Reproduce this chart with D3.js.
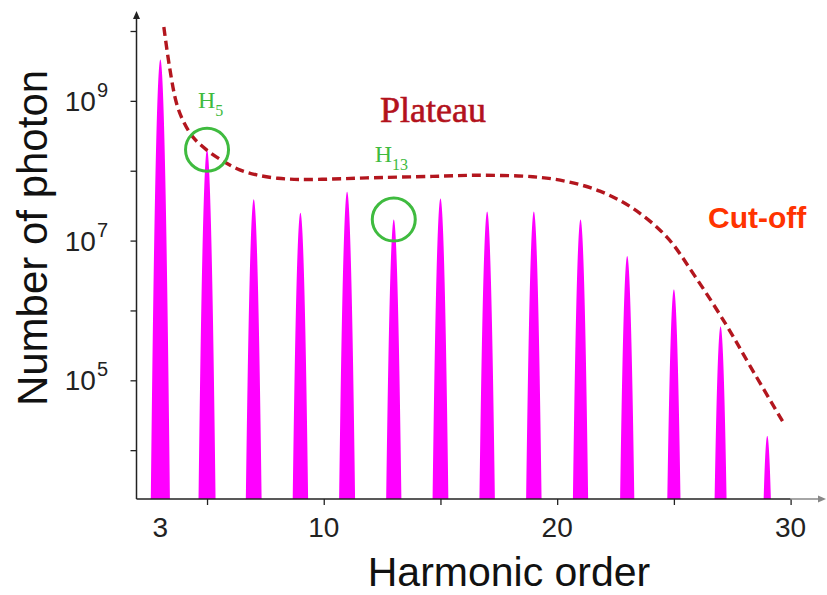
<!DOCTYPE html>
<html>
<head>
<meta charset="utf-8">
<script src="https://cdn.jsdelivr.net/npm/d3@7"></script>
<style>
  html, body { margin: 0; padding: 0; background: #fff; }
  svg { display: block; }
</style>
</head>
<body>
<script>
// Odd harmonic orders and their photon yields (peak heights)
const harmonicOrders = [3, 5, 7, 9, 11, 13, 15, 17, 19, 21, 23, 25, 27, 29];
const photonCounts = [3.9e9, 2.0e8, 3.9e7, 2.5e7, 5.0e7, 2.0e7, 4.0e7, 2.6e7, 2.6e7, 2.0e7, 6.0e6, 2.0e6, 5.9e5, 1.6e4];

// Spectral envelope (plateau then cut-off)
const envelopeOrders = [3.15, 3.40, 3.69, 3.96, 4.39, 4.98, 5.68, 6.40, 7.13, 8.03, 8.97, 10.39, 11.84, 14.67, 16.55, 18.96, 20.42, 21.83, 23.24, 24.70, 25.90, 27.27, 28.26, 29.67];
const envelopePhotons = [1.14e10, 2.96e9, 9.3e8, 5.33e8, 3.05e8, 1.99e8, 1.38e8, 1.03e8, 8.7e7, 7.8e7, 7.5e7, 7.6e7, 7.9e7, 8.3e7, 8.6e7, 8.2e7, 7.0e7, 5.1e7, 2.9e7, 1.12e7, 3.1e6, 6.0e5, 1.61e5, 2.55e4];

// Axis ticks
const xTickValues = [5, 10, 15, 20, 25, 30];
const xTickLabels = [3, 10, 20, 30];
const yTickValues = [1e4, 1e5, 1e6, 1e7, 1e8, 1e9, 1e10];
const yLabelExponents = [5, 7, 9];

// Highlighted harmonics
const circledOrders = [5, 13];

const W = 827, H = 595;
const svg = d3.select("body").append("svg").attr("width", W).attr("height", H);

const x = d3.scaleLinear().domain([2, 30]).range([137, 790.6]);
const y = d3.scaleLog().domain([2e3, 1e10]).range([499, 31]);
const yBottom = y.range()[0];
const sigma = 0.076; // peak width, in harmonic units

// Harmonic peaks: gaussian lines on a log axis
const peakArea = d3.area()
  .x(d => x(d[0]))
  .y0(yBottom)
  .y1(d => y(Math.max(d[1], y.domain()[0])));

harmonicOrders.forEach((h, i) => {
  const pts = [];
  for (let dx = -0.6; dx <= 0.6001; dx += 0.002) {
    const v = photonCounts[i] * Math.exp(-(dx * dx) / (2 * sigma * sigma));
    pts.push([h + dx, v]);
  }
  svg.append("path")
    .datum(pts)
    .attr("d", peakArea)
    .attr("fill", "#ff00ff");
});

// Envelope curve
const env = envelopeOrders.map((h, i) => [h, envelopePhotons[i]]);
svg.append("path")
  .datum(env)
  .attr("d", d3.line().x(d => x(d[0])).y(d => y(d[1])).curve(d3.curveCatmullRom.alpha(0.5)))
  .attr("fill", "none")
  .attr("stroke", "#b3161e")
  .attr("stroke-width", 3.4)
  .attr("stroke-dasharray", "9,5");

// Axes
const axisColor = "#222";
const gx = svg.append("g").attr("transform", `translate(0,${yBottom})`)
  .call(d3.axisBottom(x).tickValues(xTickValues).tickSize(6).tickFormat(""));
gx.select(".domain").remove();
gx.selectAll(".tick line").attr("stroke", axisColor).attr("stroke-width", 1.3);

const gy = svg.append("g").attr("transform", `translate(${x(2) - 0.5},0)`)
  .call(d3.axisLeft(y).tickValues(yTickValues).tickSize(6).tickFormat(""));
gy.select(".domain").remove();
gy.selectAll(".tick line").attr("stroke", axisColor).attr("stroke-width", 1.3);

// Axis lines with arrow heads
svg.append("line").attr("x1", x(2) - 0.5).attr("x2", x(2) - 0.5).attr("y1", yBottom).attr("y2", 15)
  .attr("stroke", axisColor).attr("stroke-width", 1.5);
svg.append("path").attr("d", `M${x(2) - 0.5},11 l-3.5,8 l7,0 z`).attr("fill", axisColor);
svg.append("line").attr("x1", x(2) - 0.5).attr("x2", x(30)).attr("y1", yBottom).attr("y2", yBottom)
  .attr("stroke", axisColor).attr("stroke-width", 1.5);
svg.append("line").attr("x1", x(30)).attr("x2", 822).attr("y1", yBottom).attr("y2", yBottom)
  .attr("stroke", "#888").attr("stroke-width", 1.5);
svg.append("path").attr("d", `M826,${yBottom} l-8,-3.5 l0,7 z`).attr("fill", "#888");

// Tick labels
const sans = "'Liberation Sans', Arial, sans-serif";
svg.append("g").selectAll("text").data(xTickLabels).join("text")
  .attr("x", d => x(d)).attr("y", 537)
  .attr("text-anchor", "middle")
  .attr("font-family", sans).attr("font-size", 28).attr("fill", "#222")
  .text(d => d);

const yl = svg.append("g").selectAll("text").data(yLabelExponents).join("text")
  .attr("x", 108).attr("y", d => y(Math.pow(10, d)) + 10)
  .attr("text-anchor", "end")
  .attr("font-family", sans).attr("fill", "#222");
yl.append("tspan").attr("font-size", 28).text("10");
yl.append("tspan").attr("font-size", 20).attr("dx", 1).attr("dy", -14).text(d => d);

// Axis titles
svg.append("text")
  .attr("x", 509).attr("y", 586)
  .attr("text-anchor", "middle")
  .attr("font-family", sans).attr("font-size", 41).attr("fill", "#111")
  .text("Harmonic order");
svg.append("text")
  .attr("transform", "translate(47,238) rotate(-90)")
  .attr("text-anchor", "middle")
  .attr("font-family", sans).attr("font-size", 42).attr("fill", "#111")
  .text("Number of photon");

// Circles around selected harmonics and their labels
const green = "#3fbb3f";
circledOrders.forEach(h => {
  const v = photonCounts[harmonicOrders.indexOf(h)];
  svg.append("circle")
    .attr("cx", x(h)).attr("cy", y(v)).attr("r", 21.5)
    .attr("fill", "none").attr("stroke", green).attr("stroke-width", 3);
});

const serif = "'Liberation Serif', 'Times New Roman', serif";
function harmonicLabel(px, py, sub) {
  const t = svg.append("text").attr("x", px).attr("y", py)
    .attr("font-family", serif).attr("fill", green);
  t.append("tspan").attr("font-size", 24).text("H");
  t.append("tspan").attr("font-size", 16).attr("dy", 8).text(sub);
}
harmonicLabel(x(5) - 9, y(photonCounts[1]) - 42, "5");
harmonicLabel(x(13) - 19, y(photonCounts[5]) - 58, "13");

// Region labels
svg.append("text")
  .attr("x", 380).attr("y", 121.5)
  .attr("font-family", serif).attr("font-size", 36).attr("fill", "#b3121c")
  .attr("stroke", "#b3121c").attr("stroke-width", 0.6)
  .text("Plateau");
svg.append("text")
  .attr("x", 708).attr("y", 227.5)
  .attr("font-family", sans).attr("font-weight", "bold").attr("font-size", 30).attr("fill", "#ff3300")
  .text("Cut-off");
</script>
</body>
</html>
